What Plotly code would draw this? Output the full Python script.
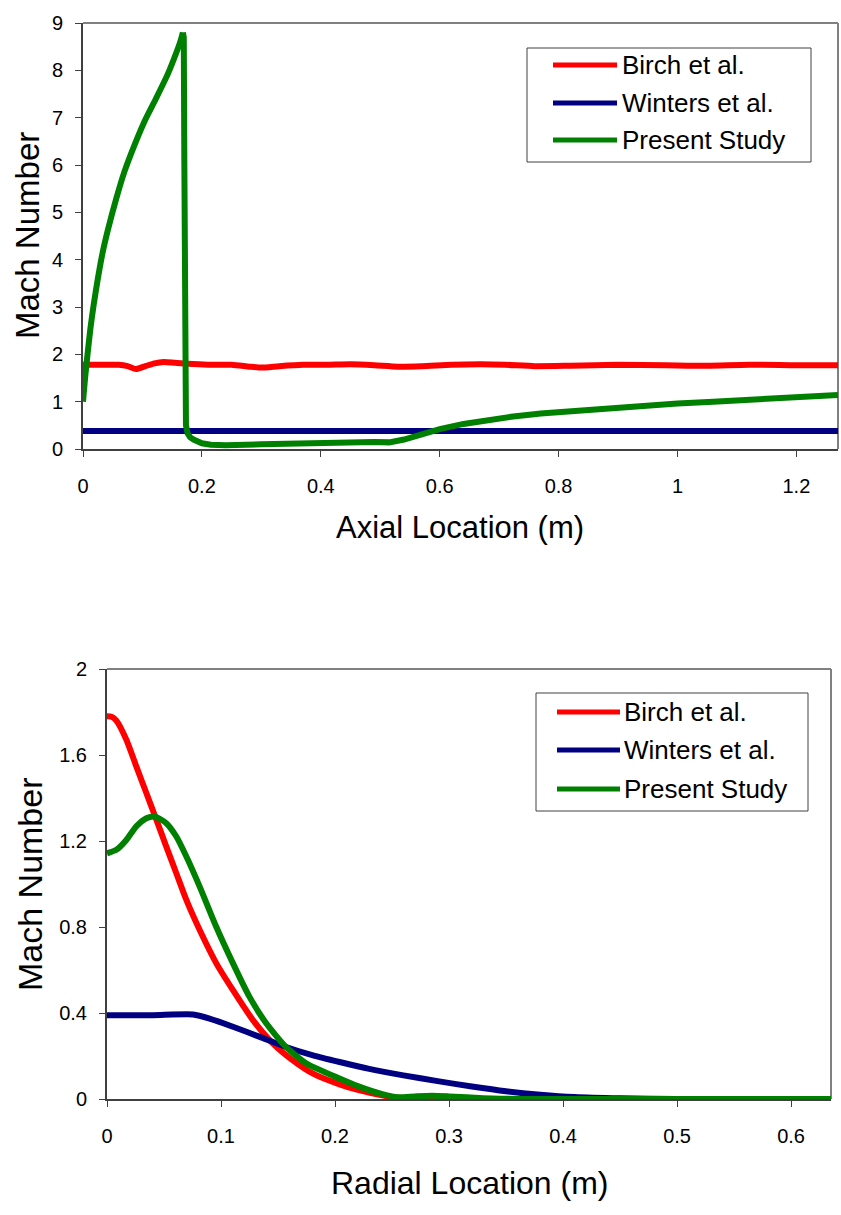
import plotly.graph_objects as go

W, H = 841, 1215

# ---------------- data: axial profile (top) ----------------
axial_birch_x = [0, 0.03, 0.06, 0.075, 0.089, 0.105, 0.12, 0.136, 0.155, 0.176, 0.21, 0.25, 0.28, 0.30,
                 0.33, 0.37, 0.41, 0.45, 0.49, 0.53, 0.57, 0.62, 0.67, 0.71, 0.76, 0.82, 0.9, 0.98,
                 1.05, 1.12, 1.2, 1.27]
axial_birch_y = [1.78, 1.78, 1.78, 1.75, 1.69, 1.75, 1.81, 1.84, 1.82, 1.80, 1.78, 1.78, 1.74, 1.72,
                 1.75, 1.78, 1.78, 1.79, 1.77, 1.74, 1.75, 1.78, 1.79, 1.78, 1.75, 1.76, 1.78, 1.77,
                 1.76, 1.78, 1.77, 1.77]

axial_winters_x = [0, 0.3, 0.6, 0.9, 1.27]
axial_winters_y = [0.38, 0.38, 0.38, 0.38, 0.38]

# rising branch of the present study (before the shock)
axial_present_rise_x = [0, 0.0035, 0.0076, 0.0125, 0.018, 0.025, 0.033, 0.0417, 0.0557, 0.0697,
                        0.0866, 0.1034, 0.123, 0.1426, 0.1566, 0.1645, 0.168]
axial_present_rise_y = [1.0, 1.5, 2.0, 2.55, 3.05, 3.6, 4.15, 4.62, 5.28, 5.86,
                        6.42, 6.92, 7.41, 7.92, 8.36, 8.64, 8.8]
# shock and downstream branch of the present study
axial_present_fall_x = [0.168, 0.1695, 0.1705, 0.1715, 0.1722, 0.1732, 0.176, 0.18, 0.186, 0.192,
                        0.2, 0.215, 0.24, 0.3, 0.35, 0.4, 0.45, 0.49, 0.515, 0.54, 0.57, 0.6, 0.64,
                        0.68, 0.72, 0.77, 0.82, 0.88, 0.94, 1.0, 1.06, 1.12, 1.18, 1.27]
axial_present_fall_y = [8.8, 8.7, 6.0, 3.0, 1.0, 0.5, 0.33, 0.25, 0.2, 0.16,
                        0.12, 0.09, 0.08, 0.1, 0.12, 0.14, 0.15, 0.15, 0.14, 0.2, 0.31, 0.42, 0.53,
                        0.62, 0.68, 0.75, 0.8, 0.86, 0.91, 0.96, 1.0, 1.04, 1.08, 1.14]

# ---------------- data: radial profile (bottom) ----------------
radial_birch_x = [0, 0.004, 0.0082, 0.017, 0.0257, 0.0345, 0.0433, 0.052, 0.0608, 0.0696, 0.0813,
                  0.0959, 0.1105, 0.128, 0.1456, 0.163, 0.1807, 0.204, 0.22, 0.24, 0.255, 0.27, 0.3,
                  0.4, 0.5, 0.635]
radial_birch_y = [1.78, 1.778, 1.76, 1.671, 1.547, 1.423, 1.299, 1.174, 1.05, 0.926, 0.786,
                  0.631, 0.506, 0.367, 0.258, 0.18, 0.118, 0.068, 0.042, 0.018, 0.006, 0.002, 0.0,
                  0.0, 0.0, 0.0]

radial_winters_x = [0, 0.04, 0.0754, 0.09, 0.1105, 0.134, 0.157, 0.1807, 0.204, 0.23, 0.26, 0.29,
                    0.32, 0.35, 0.38, 0.41, 0.45, 0.5, 0.635]
radial_winters_y = [0.39, 0.39, 0.393, 0.374, 0.336, 0.289, 0.242, 0.203, 0.172, 0.14, 0.11, 0.083,
                    0.058, 0.036, 0.02, 0.009, 0.003, 0.0, 0.0]

radial_present_x = [0, 0.0082, 0.017, 0.0257, 0.0345, 0.0418, 0.052, 0.0608, 0.0696, 0.0813, 0.0959,
                    0.1105, 0.125, 0.1398, 0.157, 0.175, 0.204, 0.22, 0.24, 0.255, 0.27, 0.285,
                    0.3, 0.33, 0.36, 0.4, 0.5, 0.635]
radial_present_y = [1.143, 1.159, 1.205, 1.268, 1.306, 1.314, 1.283, 1.221, 1.128, 0.988, 0.80,
                    0.631, 0.475, 0.351, 0.242, 0.165, 0.095, 0.06, 0.025, 0.008, 0.012, 0.015,
                    0.012, 0.004, 0.0, 0.0, 0.0, 0.0]

series_names = ["Birch et al.", "Winters et al.", "Present Study"]
series_colors = ["#FF0000", "#000080", "#008000"]

axial_ticks = [0, 0.2, 0.4, 0.6, 0.8, 1, 1.2]
axial_ticklabels = ["0", "0.2", "0.4", "0.6", "0.8", "1", "1.2"]
axial_yticks = [0, 1, 2, 3, 4, 5, 6, 7, 8, 9]
radial_ticks = [0, 0.1, 0.2, 0.3, 0.4, 0.5, 0.6]
radial_yticks = [0, 0.4, 0.8, 1.2, 1.6, 2]
radial_yticklabels = ["0", "0.4", "0.8", "1.2", "1.6", "2"]

FONT = "Liberation Sans, Arial, sans-serif"
RED, NAVY, GREEN = series_colors


def px(x):
    return x / W


def py(y):
    return 1 - y / H


fig = go.Figure()


def line(xs, ys, name, col, xa, ya, shape="spline", smoothing=0.6):
    fig.add_trace(go.Scatter(x=xs, y=ys, mode="lines", name=name, showlegend=False,
                             line=dict(color=col, width=6, shape=shape,
                                       smoothing=smoothing if shape == "spline" else None),
                             xaxis=xa, yaxis=ya))


# top chart
line(axial_birch_x, axial_birch_y, series_names[0], RED, "x", "y")
line(axial_winters_x, axial_winters_y, series_names[1], NAVY, "x", "y", shape="linear")
line(axial_present_rise_x, axial_present_rise_y, series_names[2], GREEN, "x", "y")
line(axial_present_fall_x, axial_present_fall_y, series_names[2], GREEN, "x", "y", shape="linear")

# bottom chart
line(radial_birch_x, radial_birch_y, series_names[0], RED, "x2", "y2")
line(radial_winters_x, radial_winters_y, series_names[1], NAVY, "x2", "y2")
line(radial_present_x, radial_present_y, series_names[2], GREEN, "x2", "y2")

axis_common = dict(showgrid=False, zeroline=False, showline=True, linecolor="#404040",
                   linewidth=2, ticks="outside", ticklen=6, tickwidth=1, tickcolor="#404040",
                   tickfont=dict(family=FONT, size=20, color="#000000"), layer="below traces",
                   automargin=False)

fig.update_layout(
    template="none",
    width=W, height=H, margin=dict(l=0, r=0, t=0, b=0, pad=0, autoexpand=False),
    paper_bgcolor="white", plot_bgcolor="white", showlegend=False,
    font=dict(family=FONT, color="#000000"),
    xaxis=dict(domain=[px(83), px(838)], range=[0, 1.27], tickvals=axial_ticks,
               ticktext=axial_ticklabels, anchor="y", ticklabelstandoff=12, **axis_common),
    yaxis=dict(domain=[py(449), py(23)], range=[0, 9], tickvals=axial_yticks, anchor="x",
               ticklabelstandoff=8, **axis_common),
    xaxis2=dict(domain=[px(107), px(831)], range=[0, 0.635], tickvals=radial_ticks,
                anchor="y2", ticklabelstandoff=12, **axis_common),
    yaxis2=dict(domain=[py(1099), py(669)], range=[0, 2], tickvals=radial_yticks,
                ticktext=radial_yticklabels, anchor="x2", ticklabelstandoff=8, **axis_common),
)

shapes = []
# top / right frame edges (gray)
for xa, ya in (("x", "y"), ("x2", "y2")):
    shapes.append(dict(type="line", xref=f"{xa} domain", yref=f"{ya} domain", x0=0, x1=1, y0=1, y1=1,
                       line=dict(color="#808080", width=2), layer="below"))
    shapes.append(dict(type="line", xref=f"{xa} domain", yref=f"{ya} domain", x0=1, x1=1, y0=0, y1=1,
                       line=dict(color="#808080", width=2), layer="below"))

annotations = []


def add_legend(box, line_x, text_x, rows):
    x0, y0, x1, y1 = box
    shapes.append(dict(type="rect", xref="paper", yref="paper", x0=px(x0), x1=px(x1),
                       y0=py(y1), y1=py(y0), line=dict(color="#404040", width=1),
                       fillcolor="white", layer="above"))
    for name, col, ry in zip(series_names, series_colors, rows):
        shapes.append(dict(type="line", xref="paper", yref="paper", x0=px(line_x[0]),
                           x1=px(line_x[1]), y0=py(ry), y1=py(ry),
                           line=dict(color=col, width=5), layer="above"))
        annotations.append(dict(text=name, xref="paper", yref="paper", x=px(text_x), y=py(ry),
                                xanchor="left", yanchor="middle", showarrow=False,
                                font=dict(family=FONT, size=26, color="#000000")))


add_legend((527, 48, 811, 162), (553, 617), 620, (65, 103, 140))
add_legend((536, 693, 808, 811), (557, 620), 622, (712, 750, 789))

titles = [
    ("Mach Number", 28, 236, -90, 33),
    ("Axial Location (m)", 460, 527, 0, 31),
    ("Mach Number", 30, 884, -90, 34),
    ("Radial Location (m)", 469, 1183, 0, 32),
]
for t, x, y, ang, size in titles:
    annotations.append(dict(text=t, xref="paper", yref="paper", x=px(x), y=py(y),
                            xanchor="center", yanchor="middle", showarrow=False, textangle=ang,
                            font=dict(family=FONT, size=size, color="#000000")))

fig.update_layout(shapes=shapes, annotations=annotations)

fig.write_html("out.html")
